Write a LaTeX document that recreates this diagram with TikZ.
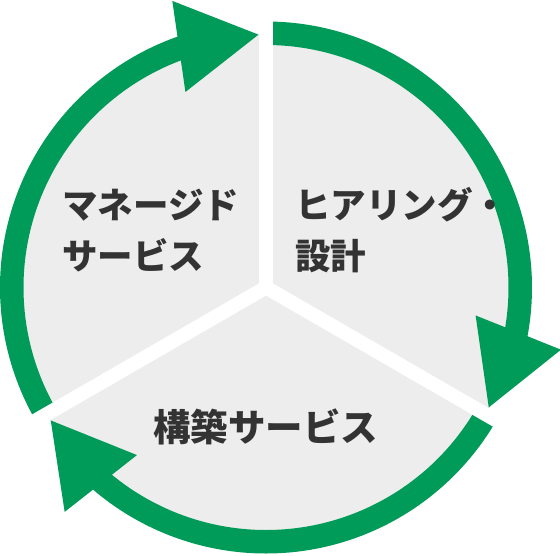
\documentclass[tikz,border=0pt]{standalone}
\usepackage{fontspec}
\newfontfamily\jp{Noto Sans CJK JP}
\definecolor{cgreen}{HTML}{009B58}
\definecolor{cgray}{HTML}{EDEDED}
\definecolor{ctext}{HTML}{333333}
\tikzset{
  ring/.style={draw=cgreen, line width=23.5pt, line cap=butt},
  gapline/.style={draw=white, line width=14pt, line cap=round},
  head/.style={fill=cgreen},
  label/.style={text=ctext, font=\jp\bfseries\fontsize{35.5}{51}\selectfont, inner sep=0pt, align=left}
}
\begin{document}
\begin{tikzpicture}[x=1pt,y=1pt]
\useasboundingbox (-266,-267.5) rectangle (294,287.5);
% gray disc
\fill[cgray] (0,0) circle (254);
% ring arcs
\draw[ring] (210:254.25) arc[start angle=210, end angle=106, radius=254.25];
\draw[ring] (90:254.25) arc[start angle=90, end angle=-14, radius=254.25];
\draw[ring] (330:254.25) arc[start angle=330, end angle=226, radius=254.25];
% gaps
\coordinate (c) at (0,0);
\coordinate (g1) at (90:320);
\coordinate (g2) at (-30:320);
\coordinate (g3) at (210:320);
\draw[gapline] (c) -- (g1);
\draw[gapline] (c) -- (g2);
\draw[gapline] (c) -- (g3);
% arrowheads
\foreach \g in {90,-30,210}{
  \fill[head] (\g+1.7:253) -- (\g+18.1:301.5) -- (\g+22.4:211.5) -- cycle;
}
% labels
\node[label, anchor=west] (m) at (-204,57) {マネージド\\サービス};
\node[label, anchor=west] (h) at (29,57) {ヒアリング・\\設計};
\node[label, font=\jp\bfseries\fontsize{37.5}{51}\selectfont] (k) at (0,-139.5) {構築サービス};
\end{tikzpicture}
\end{document}
